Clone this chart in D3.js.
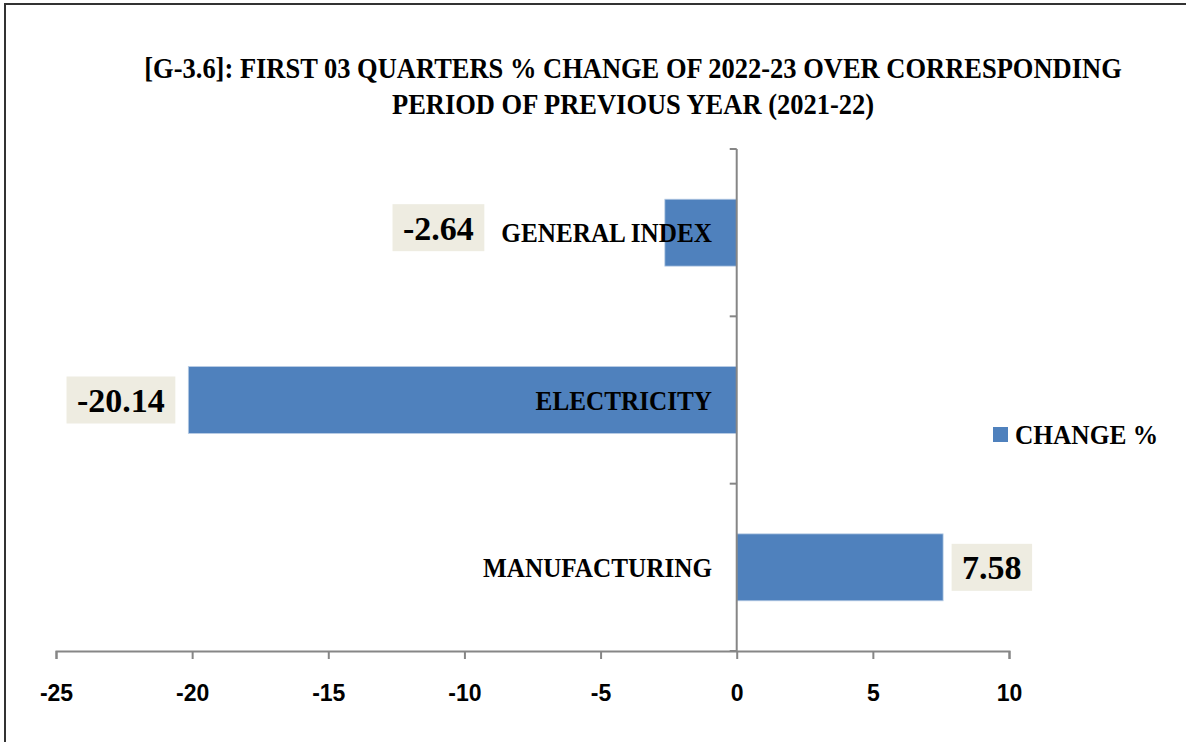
<!DOCTYPE html>
<html>
<head>
<meta charset="utf-8">
<script src="https://cdn.jsdelivr.net/npm/d3@7"></script>
<style>
  html, body { margin: 0; padding: 0; background: #fff; }
  svg { display: block; }
</style>
</head>
<body>
<svg id="chart" width="1186" height="742"></svg>
<script>
const categories = ["GENERAL INDEX", "ELECTRICITY", "MANUFACTURING"];
const changeValues = [-2.64, -20.14, 7.58];
const valueLabels = ["-2.64", "-20.14", "7.58"];
const xTicks = [-25, -20, -15, -10, -5, 0, 5, 10];
const titleLines = [
  "[G-3.6]: FIRST 03 QUARTERS % CHANGE OF 2022-23 OVER CORRESPONDING",
  "PERIOD OF PREVIOUS YEAR (2021-22)"
];
const seriesName = "CHANGE %";

const svg = d3.select("#chart");
const serif = "'Liberation Serif', 'Times New Roman', serif";
const sans = "'Liberation Sans', Arial, sans-serif";

// outer frame
svg.append("rect").attr("x", 5).attr("y", 4).attr("width", 1200).attr("height", 760)
  .attr("fill", "#fff").attr("stroke", "#333").attr("stroke-width", 2);

const x = d3.scaleLinear().domain([-25, 10]).range([56, 1009]);
const y = d3.scaleBand().domain(categories).range([149, 651]).paddingInner(0.6).paddingOuter(0.3);
const yFull = d3.scaleBand().domain(categories).range([149, 651]);

// title
titleLines.forEach((t, i) => {
  svg.append("text")
    .attr("transform", `translate(633,${78 + i * 36}) scale(0.92,1)`)
    .attr("text-anchor", "middle")
    .attr("font-family", serif).attr("font-weight", "bold").attr("font-size", 28.8)
    .attr("fill", "#000").text(t);
});

// bars
svg.append("g").selectAll("rect").data(changeValues).join("rect")
  .attr("x", d => x(Math.min(0, d)))
  .attr("width", d => Math.abs(x(d) - x(0)))
  .attr("y", (d, i) => y(categories[i]))
  .attr("height", y.bandwidth())
  .attr("fill", "#4F81BD")
  .attr("stroke", "#B9CDE5").attr("stroke-width", 0.8);

// x axis
const xAxis = svg.append("g").attr("transform", "translate(0,651)")
  .call(d3.axisBottom(x).tickValues(xTicks).tickSize(8).tickSizeOuter(8).tickPadding(26).tickFormat(d3.format("d")));
xAxis.select(".domain").attr("stroke", "#868686").attr("stroke-width", 2);
xAxis.selectAll(".tick line").attr("stroke", "#868686").attr("stroke-width", 2);
xAxis.selectAll(".tick text").attr("font-family", sans).attr("font-weight", "bold")
  .attr("font-size", 23).attr("fill", "#000").text(d => d < 0 ? "-" + Math.abs(d) : d);

// y axis at x=0
const bounds = categories.map(c => yFull(c)).concat([651]);
const yAx = svg.append("g");
yAx.append("line").attr("x1", x(0)).attr("x2", x(0)).attr("y1", 149).attr("y2", 651)
  .attr("stroke", "#868686").attr("stroke-width", 2);
yAx.selectAll("line.tk").data(bounds).join("line").attr("class", "tk")
  .attr("x1", x(0) - 7).attr("x2", x(0)).attr("y1", d => d).attr("y2", d => d)
  .attr("stroke", "#868686").attr("stroke-width", 2);

// category labels
const catSquish = 0.9;
const catLabels = svg.append("g").selectAll("text").data(categories).join("text")
  .attr("transform", d => `translate(712,${y(d) + y.bandwidth() / 2 + 9.5}) scale(${catSquish},1)`)
  .attr("text-anchor", "end")
  .attr("font-family", serif).attr("font-weight", "bold").attr("font-size", 28)
  .attr("fill", "#000").text(d => d);

// value labels with boxes
const catLeft = [];
catLabels.each(function () { catLeft.push(712 - this.getComputedTextLength() * catSquish); });

const vl = svg.append("g");
changeValues.forEach((v, i) => {
  const cy = y(categories[i]) + y.bandwidth() / 2;
  const g = vl.append("g");
  const t = g.append("text")
    .attr("font-family", serif).attr("font-weight", "bold").attr("font-size", 34)
    .attr("fill", "#000").attr("text-anchor", "start").text(valueLabels[i]);
  const w = t.node().getComputedTextLength();
  const padX = 10.5, boxW = w + 2 * padX, boxH = 47;
  let left;
  if (v >= 0) {
    left = x(v) + 8.5;
  } else {
    left = x(v) - 13 - boxW;
    if (x(v) > catLeft[i] - 10) left = catLeft[i] - 17 - boxW;
  }
  const top = cy - boxH / 2 - (v < 0 && x(v) > catLeft[i] ? 5 : 0);
  g.insert("rect", "text").attr("x", left).attr("y", top).attr("width", boxW).attr("height", boxH)
    .attr("fill", "#EEECE1");
  t.attr("x", left + padX).attr("y", top + boxH / 2 + 12);
});

// legend
const lg = svg.append("g");
lg.append("rect").attr("x", 993).attr("y", 427).attr("width", 15).attr("height", 15).attr("fill", "#4F81BD");
lg.append("text")
  .attr("transform", `translate(1015,444) scale(0.94,1)`)
  .attr("font-family", serif).attr("font-weight", "bold").attr("font-size", 27)
  .attr("fill", "#000").text(seriesName);
</script>
</body>
</html>
